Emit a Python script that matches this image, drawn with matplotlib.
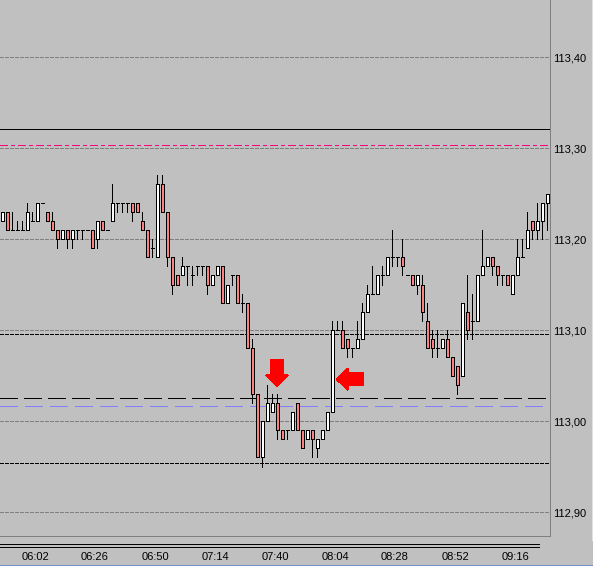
import matplotlib
matplotlib.use('Agg')
import matplotlib.pyplot as plt
from matplotlib.patches import Rectangle
from matplotlib.lines import Line2D

# velas de 2 minutos
opens = [113.22, 113.23, 113.21, 113.21, 113.21, 113.21, 113.22, 113.22, 113.24, 113.23,
         113.22, 113.21, 113.20, 113.21, 113.20, 113.21, 113.21, 113.21, 113.21, 113.20,
         113.22, 113.21, 113.22, 113.24, 113.24, 113.24, 113.24, 113.24, 113.22, 113.21,
         113.19, 113.18, 113.26, 113.23, 113.18, 113.16, 113.16, 113.17, 113.16, 113.17,
         113.17, 113.17, 113.15, 113.16, 113.17, 113.13, 113.16, 113.16, 113.13, 113.13,
         113.08, 113.03, 112.96, 113.00, 113.01, 113.02, 112.99, 112.99, 112.99, 113.02,
         112.99, 112.98, 112.99, 112.97, 112.98, 112.99, 113.01, 113.10, 113.10, 113.09,
         113.08, 113.08, 113.09, 113.12, 113.14, 113.14, 113.16, 113.16, 113.18, 113.18,
         113.18, 113.16, 113.16, 113.15, 113.15, 113.11, 113.09, 113.08, 113.08, 113.09,
         113.07, 113.06, 113.05, 113.12, 113.11, 113.11, 113.16, 113.17, 113.18, 113.17,
         113.16, 113.16, 113.14, 113.16, 113.18, 113.19, 113.22, 113.21, 113.22, 113.24]
highs = [113.23, 113.23, 113.23, 113.22, 113.22, 113.24, 113.23, 113.24, 113.24, 113.23,
         113.23, 113.21, 113.21, 113.21, 113.21, 113.21, 113.21, 113.21, 113.21, 113.22,
         113.22, 113.21, 113.26, 113.24, 113.24, 113.24, 113.24, 113.24, 113.23, 113.21,
         113.20, 113.27, 113.27, 113.23, 113.18, 113.16, 113.18, 113.17, 113.17, 113.17,
         113.17, 113.17, 113.16, 113.17, 113.17, 113.15, 113.16, 113.16, 113.14, 113.13,
         113.09, 113.03, 113.00, 113.04, 113.03, 113.03, 112.99, 112.99, 113.01, 113.02,
         112.99, 112.99, 112.99, 112.98, 112.99, 113.01, 113.11, 113.11, 113.11, 113.09,
         113.08, 113.11, 113.13, 113.15, 113.17, 113.16, 113.17, 113.18, 113.21, 113.18,
         113.20, 113.16, 113.16, 113.16, 113.16, 113.13, 113.10, 113.10, 113.09, 113.10,
         113.07, 113.06, 113.13, 113.16, 113.14, 113.16, 113.21, 113.18, 113.18, 113.17,
         113.16, 113.16, 113.16, 113.20, 113.20, 113.23, 113.22, 113.24, 113.24, 113.25]
lows = [113.22, 113.21, 113.21, 113.21, 113.21, 113.21, 113.22, 113.22, 113.24, 113.22,
        113.21, 113.19, 113.20, 113.19, 113.19, 113.20, 113.20, 113.21, 113.19, 113.19,
        113.21, 113.21, 113.22, 113.23, 113.23, 113.23, 113.22, 113.23, 113.21, 113.18,
        113.18, 113.18, 113.23, 113.17, 113.14, 113.15, 113.16, 113.15, 113.15, 113.16,
        113.16, 113.14, 113.15, 113.16, 113.13, 113.13, 113.15, 113.13, 113.12, 113.08,
        113.02, 112.96, 112.95, 113.00, 113.01, 112.98, 112.98, 112.98, 112.99, 112.99,
        112.97, 112.98, 112.96, 112.96, 112.98, 112.99, 113.01, 113.10, 113.08, 113.07,
        113.07, 113.08, 113.09, 113.12, 113.14, 113.14, 113.15, 113.16, 113.17, 113.17,
        113.16, 113.16, 113.15, 113.14, 113.11, 113.08, 113.07, 113.07, 113.08, 113.07,
        113.05, 113.03, 113.05, 113.09, 113.09, 113.11, 113.16, 113.17, 113.16, 113.15,
        113.15, 113.15, 113.14, 113.16, 113.18, 113.19, 113.20, 113.20, 113.20, 113.21]
closes = [113.23, 113.21, 113.21, 113.21, 113.21, 113.23, 113.22, 113.24, 113.24, 113.22,
          113.21, 113.20, 113.21, 113.20, 113.21, 113.21, 113.21, 113.21, 113.19, 113.22,
          113.21, 113.21, 113.24, 113.24, 113.24, 113.24, 113.23, 113.23, 113.21, 113.18,
          113.19, 113.26, 113.23, 113.18, 113.15, 113.15, 113.17, 113.17, 113.16, 113.17,
          113.17, 113.15, 113.16, 113.17, 113.13, 113.15, 113.16, 113.13, 113.13, 113.08,
          113.03, 112.96, 113.00, 113.02, 113.02, 112.99, 112.98, 112.99, 113.01, 112.99,
          112.97, 112.99, 112.98, 112.98, 112.99, 113.01, 113.10, 113.10, 113.08, 113.08,
          113.08, 113.09, 113.12, 113.14, 113.14, 113.16, 113.16, 113.18, 113.18, 113.18,
          113.17, 113.16, 113.15, 113.16, 113.12, 113.08, 113.08, 113.08, 113.09, 113.07,
          113.05, 113.04, 113.13, 113.10, 113.11, 113.16, 113.17, 113.18, 113.17, 113.16,
          113.16, 113.15, 113.16, 113.18, 113.18, 113.21, 113.21, 113.22, 113.24, 113.25]

time_labels = ['06:02', '06:26', '06:50', '07:14', '07:40', '08:04', '08:28', '08:52', '09:16']
time_bars = [7, 19, 31, 43, 55, 67, 79, 91, 103]
price_ticks = [112.90, 113.00, 113.10, 113.20, 113.30, 113.40]

# lineas horizontales de referencia
linea_negra = 113.3205
linea_magenta = 113.303
linea_punteada_1 = 113.0956
linea_larga = 113.025
linea_azul = 113.0165
linea_punteada_2 = 112.954

W, H = 593, 566
PX = 0.72  # 1 pixel en puntos a 100 dpi
fondo = '#c0c0c0'

plt.rcParams['font.family'] = ['Liberation Sans', 'DejaVu Sans']
fig = plt.figure(figsize=(W / 100, H / 100), dpi=100, facecolor=fondo)
ax = fig.add_axes([0, 30 / H, 550 / W, 536 / H], facecolor=fondo)

ax.set_xlim(-0.4, 109.6)
ax.set_ylim(112.87363, 113.46264)
du = 1 / 5.0      # unidades x por pixel
dp = 1 / 910.0    # precio por pixel

# rejilla y lineas
for p in price_ticks:
    ax.axhline(p, color='#808080', lw=PX, dashes=(3, 2), antialiased=False, zorder=1)
ax.axhline(linea_negra, color='black', lw=PX, antialiased=False, zorder=1)
ax.axhline(linea_magenta, color='#ff0080', lw=PX, dashes=(7, 3, 3, 3), antialiased=False, zorder=1)
ax.axhline(linea_punteada_1, color='black', lw=PX, dashes=(3, 2), antialiased=False, zorder=1)
ax.axhline(linea_punteada_2, color='black', lw=PX, dashes=(3, 2), antialiased=False, zorder=1)
ax.axhline(linea_larga, color='black', lw=PX, dashes=(18, 6), antialiased=False, zorder=1)
ax.axhline(linea_azul, color='#8080ff', lw=PX, dashes=(18, 7), antialiased=False, zorder=1)

# velas
for i in range(len(opens)):
    o, h, l, c = opens[i], highs[i], lows[i], closes[i]
    ax.vlines(i, l, h, color='black', lw=PX, antialiased=False, zorder=2)
    color = '#ff8080' if c < o else 'white'
    ax.add_patch(Rectangle((i - 0.3, min(o, c)), 0.6, abs(c - o), facecolor=color,
                           edgecolor='black', lw=PX, antialiased=False, zorder=3))

# flechas rojas
xa, ya = 55, 113.0385
ax.fill([xa - 5.5 * du, xa + 5.5 * du, xa + 5.5 * du, xa + 10.5 * du, xa, xa - 10.5 * du, xa - 5.5 * du],
        [ya + 26 * dp, ya + 26 * dp, ya + 11 * dp, ya + 11 * dp, ya, ya + 11 * dp, ya + 11 * dp],
        color='red', antialiased=False, zorder=4)
xb, yb = 67, 113.046
ax.fill([xb, xb + 11 * du, xb + 11 * du, xb + 26 * du, xb + 26 * du, xb + 11 * du, xb + 11 * du],
        [yb, yb + 10.5 * dp, yb + 5.5 * dp, yb + 5.5 * dp, yb - 5.5 * dp, yb - 5.5 * dp, yb - 10.5 * dp],
        color='red', antialiased=False, zorder=4)

# ejes
for s in ['top', 'left']:
    ax.spines[s].set_visible(False)
for s in ['right', 'bottom']:
    ax.spines[s].set_color('#808080')
    ax.spines[s].set_linewidth(PX)
ax.yaxis.tick_right()
ax.set_yticks(price_ticks)
ax.set_yticklabels([('%.2f' % p).replace('.', ',') for p in price_ticks])
ax.set_xticks([b - 0.4 for b in time_bars])
ax.set_xticklabels(time_labels)
ax.tick_params(axis='y', length=0, pad=2.5, labelsize=8, labelcolor='black')
ax.tick_params(axis='x', length=0, pad=11.5, labelsize=8, labelcolor='black')

# doble linea inferior y bordes
for yy in [543.5, 546.5]:
    fig.add_artist(Line2D([0, 539 / W], [1 - yy / H, 1 - yy / H], color='black', lw=PX,
                          antialiased=False, transform=fig.transFigure))
fig.add_artist(Line2D([591.5 / W, 591.5 / W], [1 - 540 / H, 1], color='#e0e0e0', lw=PX,
                      antialiased=False, transform=fig.transFigure))
fig.add_artist(Line2D([0, 1], [1 - 565 / H, 1 - 565 / H], color='#7090c8', lw=PX,
                      antialiased=False, transform=fig.transFigure))

fig.savefig('out.png', dpi=100, facecolor=fondo)
